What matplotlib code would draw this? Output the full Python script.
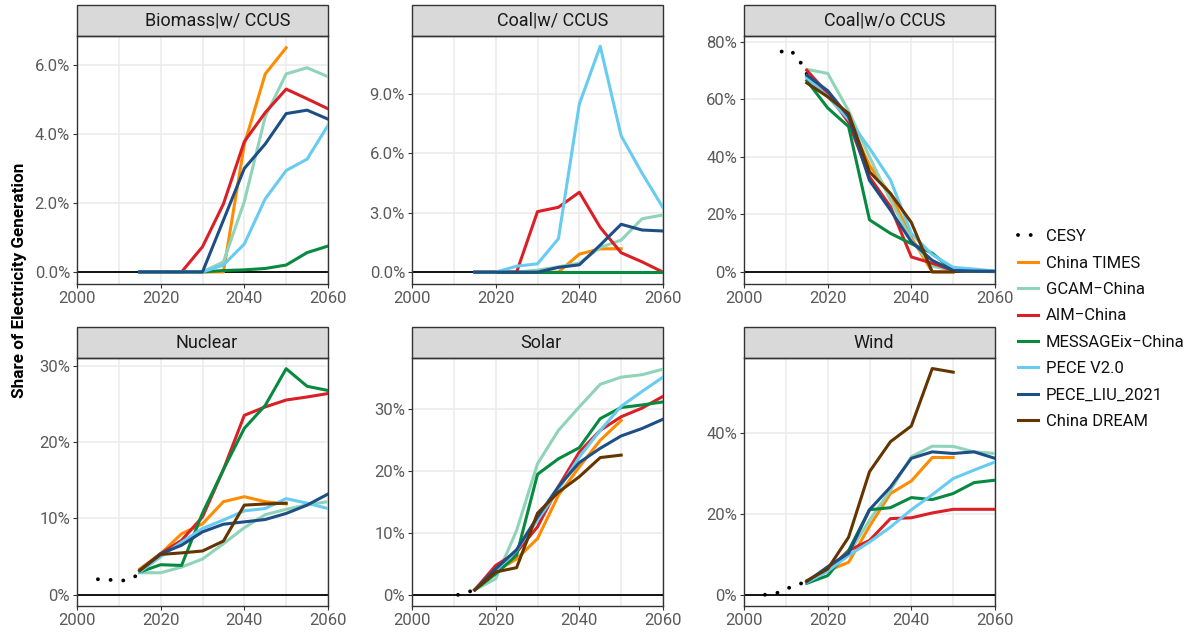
import matplotlib.pyplot as plt
from matplotlib.lines import Line2D
from matplotlib.patches import Rectangle
from matplotlib.ticker import FuncFormatter, MultipleLocator

plt.rcParams['font.family'] = ['Roboto', 'DejaVu Sans']

years = [2015, 2020, 2025, 2030, 2035, 2040, 2045, 2050, 2055, 2060]

models = ["China TIMES", "GCAM−China", "AIM−China", "MESSAGEix−China",
          "PECE V2.0", "PECE_LIU_2021", "China DREAM"]
colors = ["#FF8C00", "#8FD3B8", "#DA1F26", "#07893F",
          "#67CBF2", "#1D4F86", "#653500"]

# share of electricity generation, % (series ending at 2050 are shorter)
biomass = {
    "China TIMES": [0, 0, 0, 0, 0, 3.7, 5.74, 6.5],
    "GCAM−China": [0, 0, 0, 0, 0.29, 2.04, 4.5, 5.74, 5.92, 5.66],
    "AIM−China": [0, 0, 0, 0.73, 1.97, 3.78, 4.62, 5.3, 5.02, 4.73],
    "MESSAGEix−China": [0, 0, 0, 0, 0.04, 0.06, 0.1, 0.2, 0.56, 0.75],
    "PECE V2.0": [0, 0, 0, 0, 0.2, 0.81, 2.12, 2.94, 3.27, 4.25],
    "PECE_LIU_2021": [0, 0, 0, 0, 1.5, 3.0, 3.71, 4.59, 4.69, 4.43],
}
coal_ccus = {
    "China TIMES": [0, 0, 0, 0, 0, 0.91, 1.18, 1.18],
    "GCAM−China": [0, 0, 0, 0.1, 0.27, 0.45, 1.25, 1.62, 2.7, 2.89],
    "AIM−China": [0, 0, 0, 3.06, 3.28, 4.04, 2.26, 0.98, 0.52, 0.0],
    "MESSAGEix−China": [0, 0, 0, 0, 0, 0, 0, 0, 0, 0],
    "PECE V2.0": [0, 0, 0.3, 0.42, 1.69, 8.5, 11.42, 6.89, 5.0, 3.26],
    "PECE_LIU_2021": [0, 0, 0, 0, 0.24, 0.37, 1.37, 2.42, 2.13, 2.08],
}
coal_noccus = {
    "China TIMES": [68, 61, 53, 37, 27, 12, 0, 0],
    "GCAM−China": [70.4, 69.0, 56, 40, 25, 11, 2, 0.5, 0.3, 0.2],
    "AIM−China": [70.1, 62, 52, 33, 22.7, 5.2, 3, 0.5, 0.2, 0.1],
    "MESSAGEix−China": [66.5, 57, 50.5, 18.1, 13.4, 9.8, 6.5, 0.5, 0.3, 0.2],
    "PECE V2.0": [67.5, 61, 53, 43, 32, 13.4, 6, 1.6, 1.0, 0.3],
    "PECE_LIU_2021": [68.4, 63, 54, 31.8, 21.5, 10.5, 4, 0.5, 0.3, 0.2],
    "China DREAM": [65.7, 60.9, 55.1, 34.8, 27.3, 17.2, 0, 0],
}
nuclear = {
    "China TIMES": [3.4, 5.4, 8.0, 9.3, 12.2, 12.85, 12.2, 11.9],
    "GCAM−China": [2.9, 2.9, 3.64, 4.7, 6.7, 8.8, 10.5, 11.2, 11.8, 12.2],
    "AIM−China": [3.2, 5.4, 7.15, 10.2, 16.4, 23.5, 24.6, 25.5, 25.9, 26.35],
    "MESSAGEix−China": [3.0, 3.95, 3.86, 10.7, 16.4, 21.8, 24.8, 29.6, 27.3, 26.75],
    "PECE V2.0": [3.0, 5.0, 6.9, 8.7, 9.8, 11.0, 11.3, 12.6, 12.0, 11.3],
    "PECE_LIU_2021": [3.2, 5.4, 6.5, 8.25, 9.25, 9.56, 9.87, 10.66, 11.75, 13.2],
    "China DREAM": [3.2, 5.3, 5.5, 5.75, 7.05, 11.75, 11.9, 12.0],
}
solar = {
    "China TIMES": [0.8, 3.8, 5.8, 9.1, 16.1, 20.7, 25.0, 28.2],
    "GCAM−China": [0.8, 2.6, 10.4, 21.2, 26.6, 30.4, 34.05, 35.2, 35.6, 36.5],
    "AIM−China": [0.8, 4.75, 6.9, 11.0, 17.5, 23.1, 26.6, 28.8, 30.2, 32.1],
    "MESSAGEix−China": [0.8, 3.4, 6.4, 19.5, 22.0, 23.8, 28.5, 30.3, 30.7, 31.2],
    "PECE V2.0": [0.8, 3.95, 7.2, 12.1, 17.0, 22.3, 26.6, 30.5, 32.9, 35.2],
    "PECE_LIU_2021": [0.8, 4.2, 7.3, 12.6, 17.5, 21.4, 23.7, 25.7, 26.9, 28.4],
    "China DREAM": [0.8, 3.7, 4.4, 13.2, 16.6, 19.1, 22.2, 22.6],
}
wind = {
    "China TIMES": [3.3, 6.0, 8.1, 17.0, 25.1, 28.2, 34.0, 34.0],
    "GCAM−China": [3.3, 6.0, 10.2, 18.5, 25.9, 34.2, 36.8, 36.75, 35.4, 35.0],
    "AIM−China": [3.3, 6.2, 11.0, 13.5, 18.9, 19.1, 20.3, 21.2, 21.2, 21.2],
    "MESSAGEix−China": [2.9, 4.8, 11.0, 21.1, 21.6, 24.1, 23.6, 25.1, 27.8, 28.4],
    "PECE V2.0": [3.1, 5.9, 9.8, 13.1, 16.8, 21.1, 24.8, 28.8, 30.9, 32.9],
    "PECE_LIU_2021": [3.3, 7.0, 10.35, 21.1, 26.7, 33.8, 35.4, 35.0, 35.4, 33.8],
    "China DREAM": [3.55, 6.45, 14.3, 30.5, 37.9, 41.8, 56.0, 55.1],
}

# CESY historical statistics
cesy_coal_years = [2009, 2011, 2013, 2015]
cesy_coal = [76.6, 77.2, 74.2, 68.8]
cesy_nuclear_years = [2005, 2008, 2011, 2014, 2015]
cesy_nuclear = [2.05, 1.97, 1.88, 2.45, 3.0]
cesy_solar_years = [2011, 2012, 2013, 2014]
cesy_solar = [0.0, 0.1, 0.3, 0.6]
cesy_wind_years = [2005, 2008, 2011, 2014]
cesy_wind = [0.08, 0.58, 1.9, 3.0]

panels = [
    ("Biomass|w/ CCUS", biomass, None, None, (-0.35, 6.84), 2.0, 1),
    ("Coal|w/ CCUS", coal_ccus, None, None, (-0.6, 11.94), 3.0, 1),
    ("Coal|w/o CCUS", coal_noccus, cesy_coal_years, cesy_coal, (-4.2, 82), 20, 0),
    ("Nuclear", nuclear, cesy_nuclear_years, cesy_nuclear, (-1.45, 31), 10, 0),
    ("Solar", solar, cesy_solar_years, cesy_solar, (-1.8, 38.3), 10, 0),
    ("Wind", wind, cesy_wind_years, cesy_wind, (-2.7, 58.6), 20, 0),
]

W, H = 1195, 636
fig = plt.figure(figsize=(W / 100, H / 100), dpi=100)

lefts = [77, 412, 744]
tops = [36, 358]
pw, ph = 251, 248
strip_h = 31
cesy_style = dict(color="black", lw=2.8, linestyle=(0, (0.01, 3.25)),
                  dash_capstyle="round", solid_capstyle="round")

for i, (title, data, cy, cv, ylim, step, dec) in enumerate(panels):
    r, c = divmod(i, 3)
    ax = fig.add_axes([lefts[c] / W, 1 - (tops[r] + ph) / H, pw / W, ph / H])
    ax.axhline(0, color="black", lw=1.3, zorder=2)
    if cy is not None:
        ax.plot(cy, cv, zorder=3, **cesy_style)
    for m, col in zip(models, colors):
        if m in data:
            v = data[m]
            ax.plot(years[:len(v)], v, color=col, lw=2.2, zorder=3)
    ax.set_xlim(2000, 2060)
    ax.set_ylim(*ylim)
    ax.set_xticks([2000, 2020, 2040, 2060])
    ax.xaxis.set_minor_locator(MultipleLocator(10))
    ax.yaxis.set_major_locator(MultipleLocator(step))
    ax.yaxis.set_major_formatter(FuncFormatter(lambda v, p, d=dec: f"{v:.{d}f}%"))
    ax.grid(True, which="both", axis="x", color="#EBEBEB", lw=1.1, zorder=0)
    ax.grid(True, which="major", axis="y", color="#EBEBEB", lw=1.1, zorder=0)
    ax.set_axisbelow(True)
    ax.tick_params(which="major", length=3, width=0.8, color="#333333",
                   labelsize=12, labelcolor="#5A5A5A", pad=2)
    ax.tick_params(which="minor", length=0)
    for s in ax.spines.values():
        s.set_color("#333333")
        s.set_linewidth(1.0)
    sh = strip_h / ph
    ax.add_patch(Rectangle((0, 1), 1, sh, transform=ax.transAxes, clip_on=False,
                           facecolor="#D9D9D9", edgecolor="#333333", lw=1.0))
    tx = 0.56 if "|" in title else 0.515
    ax.text(tx, 1 + sh / 2, title, transform=ax.transAxes, ha="center",
            va="center", fontsize=13, color="#1A1A1A")

fig.text(0.016, 0.56, "Share of Electricity Generation", rotation=90,
         ha="center", va="center", fontsize=12.3, fontweight="bold")

handles = [Line2D([], [], **cesy_style)]
handles += [Line2D([], [], color=col, lw=2.2) for col in colors]
fig.legend(handles, ["CESY"] + models, loc="upper left",
           bbox_to_anchor=(1010 / W, 1 - 221 / H), frameon=False,
           fontsize=12, handlelength=1.2, handletextpad=0.45,
           labelspacing=0.68, borderpad=0, labelcolor="#111111")

fig.savefig("out.png", dpi=100)
